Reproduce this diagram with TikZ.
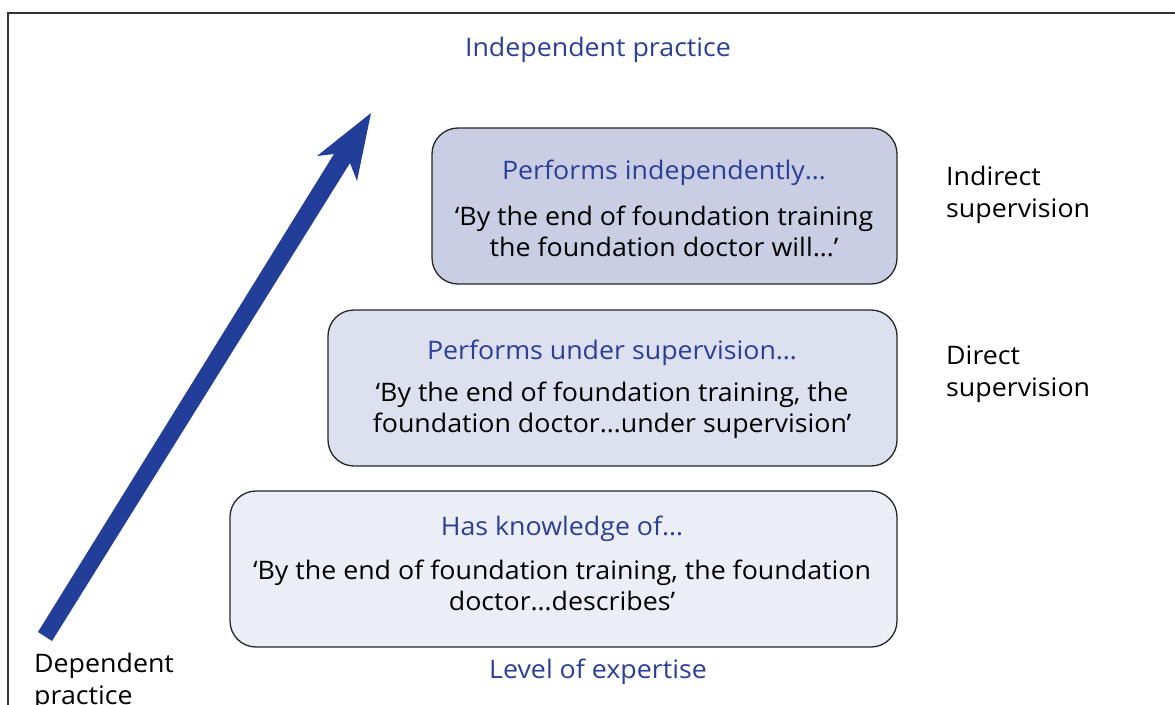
\documentclass[tikz,border=0pt]{standalone}
\usepackage{fontspec}
\setmainfont[FakeStretch=1.05]{Open Sans}
\definecolor{tblue}{HTML}{2B3F97}
\definecolor{arrowblue}{HTML}{233E99}
\definecolor{fillA}{HTML}{C9CEE4}
\definecolor{fillB}{HTML}{DCE0EF}
\definecolor{fillC}{HTML}{ECEEF6}
\begin{document}
\begin{tikzpicture}[x=1pt,y=-1pt,
  box/.style={draw=black!85,line width=1.3pt,rounded corners=26pt},
  ttl/.style={text=tblue,font=\fontsize{25.5}{30}\selectfont,inner sep=0pt},
  qt/.style={text=black,font=\fontsize{25.5}{31}\selectfont,align=center,inner sep=0pt},
  lbl/.style={text=black,font=\fontsize{25.5}{32}\selectfont,align=left,inner sep=0pt,anchor=north west},
  axis/.style={text=tblue,font=\fontsize{25.5}{30}\selectfont,inner sep=0pt}]
\clip (0,0) rectangle (1175,704);
\fill[white] (0,0) rectangle (1175,704);
\draw[black!80,line width=1.3pt] (8,730) -- (8,13) -- (1190,13);
% boxes
\draw[box,fill=fillA] (432,128) rectangle (897,284);
\draw[box,fill=fillB] (328,310) rectangle (897,466);
\draw[box,fill=fillC] (230,491) rectangle (897,647);
% arrow
\fill[arrowblue] (38,632) -- (52,641) -- (350,163) -- (357,181) -- (371,113) -- (317,156) -- (334,154) -- cycle;
% texts
\node[axis] (ip) at (598,50) {Independent practice};
\node[ttl] (t1) at (664,173) {Performs independently…};
\node[qt] (q1) at (664,231) {‘By the end of foundation training\\the foundation doctor will…’};
\node[ttl] (t2) at (612,353) {Performs under supervision…};
\node[qt] (q2) at (612,410) {‘By the end of foundation training, the\\foundation doctor…under supervision’};
\node[ttl] (t3) at (562,529) {Has knowledge of…};
\node[qt] (q3) at (562,585) {‘By the end of foundation training, the foundation\\doctor…describes’};
\node[axis] (le) at (598,672) {Level of expertise};
\node[lbl] (ind) at (946,166) {Indirect\\supervision};
\node[lbl] (dir) at (946,346) {Direct\\supervision};
\node[lbl] (dep) at (34,653) {Dependent\\practice};
\end{tikzpicture}
\end{document}
